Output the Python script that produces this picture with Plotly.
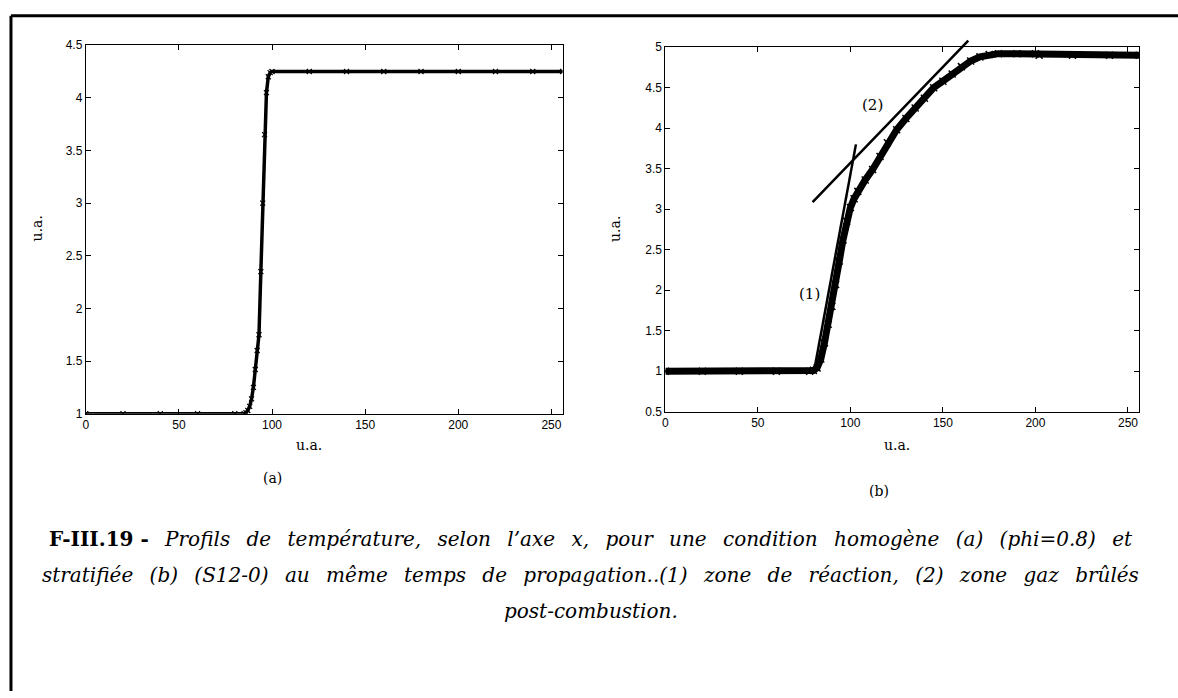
import plotly.graph_objects as go

# ---- data ----
left_x = [0, 20, 40, 60, 80, 85, 86, 87, 88, 89, 90, 91, 92, 93, 94, 95, 96, 97, 98, 99, 100,
          120, 140, 160, 180, 200, 220, 240, 256]
left_y = [1.0, 1.0, 1.0, 1.0, 1.0, 1.0, 1.01, 1.03, 1.07, 1.14, 1.25, 1.42, 1.6, 1.75, 2.35, 3.0,
          3.65, 4.05, 4.2, 4.24, 4.25, 4.25, 4.25, 4.25, 4.25, 4.25, 4.25, 4.25, 4.25]

right_x = [0, 20, 40, 60, 78, 80, 82, 84, 86, 88, 90, 92, 94, 96, 98, 100, 102, 104, 108, 112, 116,
           120, 125, 130, 135, 140, 145, 150, 155, 160, 165, 170, 175, 180, 190, 200, 202, 220, 240, 256]
right_y = [1.0, 1.0, 1.0, 1.0, 1.0, 1.01, 1.04, 1.15, 1.35, 1.58, 1.8, 2.07, 2.36, 2.62, 2.85, 3.02,
           3.13, 3.22, 3.36, 3.49, 3.65, 3.82, 3.98, 4.12, 4.25, 4.37, 4.5, 4.58, 4.67, 4.76, 4.83,
           4.88, 4.91, 4.92, 4.92, 4.92, 4.9, 4.9, 4.9, 4.9]

# tangent lines in panel (b): (1) reaction zone, (2) burnt gas zone
tan1_x = [80.6, 103.0]
tan1_y = [1.03, 3.80]
tan2_x = [78.8, 163.7]
tan2_y = [3.07, 5.08]

left_yticks = [1, 1.5, 2, 2.5, 3, 3.5, 4, 4.5]
right_yticks = [0.5, 1, 1.5, 2, 2.5, 3, 3.5, 4, 4.5, 5]
xticks = [0, 50, 100, 150, 200, 250]

caption_head = "F-III.19 -"
caption_line1 = "Profils de température, selon l’axe x, pour une condition homogène (a) (phi=0.8) et"
caption_line2 = "stratifiée (b) (S12-0) au même temps de propagation..(1) zone de réaction, (2) zone gaz brûlés"
caption_line3 = "post-combustion."

W, H = 1178, 698

fig = go.Figure()
fig.add_trace(go.Scatter(x=left_x, y=left_y, mode="lines+markers", xaxis="x", yaxis="y",
                         line=dict(color="black", width=3.5),
                         marker=dict(symbol="x-thin", size=5, line=dict(color="black", width=1.2)),
                         showlegend=False))
fig.add_trace(go.Scatter(x=right_x, y=right_y, mode="lines+markers", xaxis="x2", yaxis="y2",
                         line=dict(color="black", width=7),
                         marker=dict(symbol="x-thin", size=7, line=dict(color="black", width=1.5)),
                         showlegend=False))
fig.add_trace(go.Scatter(x=tan1_x, y=tan1_y, mode="lines", xaxis="x2", yaxis="y2",
                         line=dict(color="black", width=2.5), showlegend=False))

axis_common = dict(showgrid=False, zeroline=False, showline=True, linecolor="black", linewidth=1,
                   mirror="ticks", ticks="inside", ticklen=5, tickcolor="black", tickwidth=1,
                   tickfont=dict(family="Liberation Sans, Arial", size=12, color="black"))

fig.update_layout(
    width=W, height=H, margin=dict(l=0, r=0, t=0, b=0),
    paper_bgcolor="white", plot_bgcolor="white",
    xaxis=dict(domain=[83 / W, 561 / W], range=[0, 256], tickvals=xticks, anchor="y", **axis_common),
    yaxis=dict(domain=[1 - 415 / H, 1 - 39 / H], range=[1, 4.5], tickvals=left_yticks, anchor="x",
               **axis_common),
    xaxis2=dict(domain=[664 / W, 1139 / W], range=[0, 256], tickvals=xticks, anchor="y2", **axis_common),
    yaxis2=dict(domain=[1 - 413 / H, 1 - 41 / H], range=[0.5, 5], tickvals=right_yticks, anchor="x2",
                **axis_common),
)

serif = "DejaVu Serif, serif"
ann = []
# tangent line (2) drawn as a head-less arrow so that it may overshoot the top axis
ann.append(dict(x=tan2_x[1], y=tan2_y[1], ax=tan2_x[0], ay=tan2_y[0], xref="x2", yref="y2",
                axref="x2", ayref="y2", text="", showarrow=True, arrowhead=0, arrowwidth=2.5,
                arrowcolor="black", standoff=0, startstandoff=0))
ann.append(dict(x=77.7, y=1.95, xref="x2", yref="y2", text="(1)", showarrow=False,
                font=dict(family=serif, size=15, color="black")))
ann.append(dict(x=112.2, y=4.29, xref="x2", yref="y2", text="(2)", showarrow=False,
                font=dict(family=serif, size=15, color="black")))


def pa(px, py, text, size=14, angle=0, xanchor="center"):
    ann.append(dict(x=px / W, y=1 - py / H, xref="paper", yref="paper", text=text, showarrow=False,
                    textangle=angle, xanchor=xanchor, yanchor="middle",
                    font=dict(family=serif, size=size, color="black")))


GAP = "\u00a0\u2002"


def justify(s):
    # widen the inter-word gaps to mimic the justified caption lines
    return s.replace(" ", GAP)


pa(307, 447, "u.a.")
pa(896, 447, "u.a.")
pa(35, 226, "u.a.", angle=-90)
pa(614, 226, "u.a.", angle=-90)
pa(270, 481, "(a)")
pa(878, 494, "(b)")
pa(589, 543, "<b>" + caption_head + "</b>" + GAP + "<i>" + justify(caption_line1) + "</i>", size=20)
pa(589, 580, "<i>" + justify(caption_line2) + "</i>", size=20)
pa(589, 616, "<i>" + caption_line3 + "</i>", size=20)
fig.update_layout(annotations=ann)

# page frame
fig.update_layout(shapes=[
    dict(type="line", xref="paper", yref="paper", x0=8 / W, x1=1.0, y0=1 - 9 / H, y1=1 - 9 / H,
         line=dict(color="black", width=3)),
    dict(type="line", xref="paper", yref="paper", x0=8 / W, x1=8 / W, y0=1 - 9 / H, y1=0,
         line=dict(color="black", width=3)),
])

fig.write_html("out.html", config={"displayModeBar": False},
               post_script="document.body.style.margin='0';document.body.style.overflow='hidden';")
